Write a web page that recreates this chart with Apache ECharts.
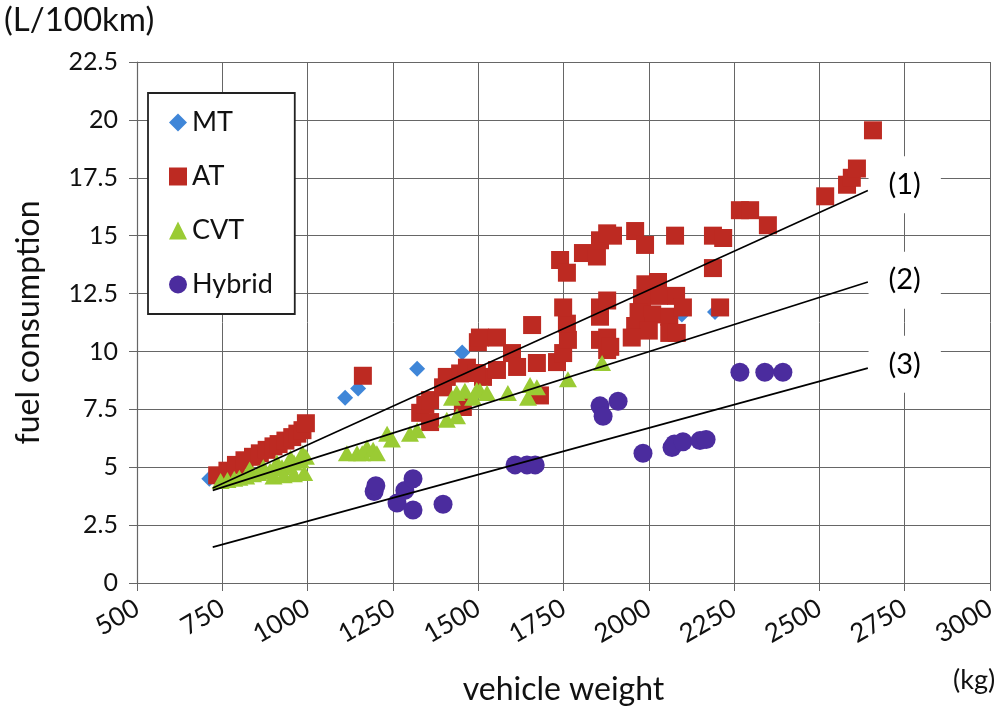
<!DOCTYPE html>
<html>
<head>
<meta charset="utf-8">
<script src="https://cdn.jsdelivr.net/npm/echarts@6/dist/echarts.min.js"></script>
<style>
html,body{margin:0;padding:0;background:#fff;}
#chart{width:1006px;height:713px;}
</style>
</head>
<body>
<div id="chart"></div>
<script>
// ---- data ----
var seriesNames = ['MT', 'AT', 'CVT', 'Hybrid'];
var xTicks = [500, 750, 1000, 1250, 1500, 1750, 2000, 2250, 2500, 2750, 3000];
var yTicks = [0, 2.5, 5, 7.5, 10, 12.5, 15, 17.5, 20, 22.5];

var mtData = [[712,4.5],[1110,8.0],[1148,8.4],[1321,9.25],[1453,9.95],[2097,11.6],[2194,11.7]];

var atData = [
  [735,4.65],[765,4.85],[790,5.1],[815,5.3],[840,5.45],[860,5.6],[880,5.75],[900,5.9],[915,6.0],
  [935,6.15],[955,6.3],[970,6.45],[985,6.6],[995,6.9],
  [1162,8.95],[1330,7.35],[1345,7.7],[1359,6.95],[1359,7.9],[1397,8.45],[1408,8.9],[1455,7.6],
  [1447,9.05],[1467,9.3],[1499,10.4],[1514,8.9],[1505,10.6],[1555,10.6],[1599,9.93],[1658,11.14],
  [1496,9.07],[1555,9.2],[1614,9.33],[1672,9.5],[1731,9.54],[1749,9.93],[1763,10.5],[1760,11.2],
  [1749,11.9],[1681,8.1],[1740,13.95],[1760,13.4],[1807,14.25],[1848,14.1],[1857,14.8],[1878,15.1],
  [1857,11.9],[1857,11.5],[1857,10.5],[1878,10.06],[1878,12.2],[1878,10.6],[1887,10.2],
  [1895,15.0],[1960,15.2],[1989,14.6],[2077,15.0],[2188,15.0],[2218,14.9],[2267,16.1],[2297,16.1],
  [2349,15.45],[2188,13.6],[2209,11.9],
  [1990,12.9],[2027,13.0],[1980,12.3],[2030,12.4],[2080,12.4],[1970,11.7],[2010,11.6],[2060,11.5],
  [2100,11.9],[1960,11.1],[2000,10.9],[2060,10.8],[1950,10.6],[2082,10.8],
  [2517,16.7],[2581,17.2],[2595,17.5],[2610,17.9],[2657,19.55]
];

var cvtData = [
  [745,4.4],[765,4.45],[785,4.5],[800,4.55],[820,4.6],[840,4.7],[855,4.75],[870,4.8],[890,4.85],
  [905,4.95],[925,5.0],[945,5.1],[960,5.2],[980,5.3],[995,5.45],[830,4.9],[870,5.0],[910,5.2],
  [950,5.4],[985,5.6],[900,4.6],[930,4.65],[960,4.7],[990,4.75],
  [1115,5.6],[1145,5.6],[1160,5.6],[1174,5.85],[1192,5.75],[1203,5.6],[1233,6.45],[1247,6.2],
  [1300,6.45],[1321,6.6],[1408,7.05],[1423,8.0],[1438,7.2],[1461,8.3],[1485,8.0],[1505,8.3],
  [1437,8.2],[1496,8.33],[1526,8.2],[1587,8.2],[1652,8.55],[1672,8.45],[1646,8.0],[1763,8.8],[1863,9.5]
];

var hybridData = [
  [1195,3.95],[1200,4.2],[1262,3.45],[1285,4.0],[1309,4.5],[1309,3.15],[1397,3.4],
  [1608,5.1],[1643,5.1],[1667,5.1],[1857,7.65],[1910,7.85],[1866,7.2],
  [1983,5.6],[2068,5.85],[2075,6.0],[2100,6.1],[2150,6.15],[2168,6.2],
  [2267,9.1],[2340,9.1],[2393,9.1]
];

var line1 = [[722,4.1],[2642,16.95]];
var line2 = [[722,4.0],[2642,13.0]];
var line3 = [[722,1.55],[2642,9.28]];
var lineLabels = ['(1)', '(2)', '(3)'];
var lineLabelPos = [[2750,17.2],[2750,13.08],[2750,9.45]];

// ---- chart ----
var FONT = 'Lato';
var gridColor = '#666';
var chart = echarts.init(document.getElementById('chart'));

var labelData = lineLabels.map(function (t, i) {
  return { name: t, value: lineLabelPos[i] };
});

var option = {
  backgroundColor: '#fff',
  animation: false,
  textStyle: { fontFamily: FONT },
  grid: { left: 137, right: 16, top: 62, bottom: 130, containLabel: false },
  xAxis: {
    type: 'value', min: xTicks[0], max: xTicks[xTicks.length - 1], interval: 250,
    name: 'vehicle weight', nameLocation: 'middle', nameGap: 91,
    nameTextStyle: { fontSize: 32, color: '#111', fontFamily: FONT },
    axisLine: { show: true, lineStyle: { color: gridColor, width: 1.2 } },
    axisTick: { show: true, length: 8, lineStyle: { color: gridColor } },
    axisLabel: { rotate: 30, fontSize: 26, color: '#111', margin: 23, fontFamily: FONT,
      formatter: function (v) { return String(v); } },
    splitLine: { show: true, lineStyle: { color: gridColor, width: 1 } }
  },
  yAxis: {
    type: 'value', min: yTicks[0], max: yTicks[yTicks.length - 1], interval: 2.5,
    name: 'fuel consumption', nameLocation: 'middle', nameGap: 92, nameRotate: 90,
    nameTextStyle: { fontSize: 32, color: '#111', fontFamily: FONT },
    axisLine: { show: true, lineStyle: { color: gridColor, width: 1.2 } },
    axisTick: { show: true, length: 8, lineStyle: { color: gridColor } },
    axisLabel: { fontSize: 25, color: '#111', margin: 19, fontFamily: FONT,
      formatter: function (v) { return String(v); } },
    splitLine: { show: true, lineStyle: { color: gridColor, width: 1 } }
  },
  legend: {
    orient: 'vertical', left: 148, top: 93,
    padding: [16, 22, 16, 21], itemGap: 27, itemWidth: 18, itemHeight: 18,
    backgroundColor: '#fff', borderColor: '#222', borderWidth: 1.8,
    textStyle: { fontSize: 27, color: '#111', fontFamily: FONT },
    data: [
      { name: seriesNames[0], icon: 'diamond' },
      { name: seriesNames[1], icon: 'rect' },
      { name: seriesNames[2], icon: 'triangle' },
      { name: seriesNames[3], icon: 'circle' }
    ]
  },
  graphic: [
    { type: 'text', left: 4, top: 4, style: { text: '(L/100km)', fontSize: 33, fill: '#111', fontFamily: FONT } },
    { type: 'text', left: 953, top: 667, style: { text: '(kg)', fontSize: 27, fill: '#111', fontFamily: FONT } }
  ],
  series: [
    { name: seriesNames[0], type: 'scatter', symbol: 'diamond', symbolSize: [16, 16], data: mtData,
      itemStyle: { color: '#3f86d8', opacity: 1 }, z: 2 },
    { name: seriesNames[1], type: 'scatter', symbol: 'rect', symbolSize: 18, data: atData,
      itemStyle: { color: '#bd2a22', opacity: 1 }, z: 3 },
    { name: seriesNames[2], type: 'scatter', symbol: 'triangle', symbolSize: [18, 16], data: cvtData,
      itemStyle: { color: '#9acb34', opacity: 1 }, z: 4 },
    { name: seriesNames[3], type: 'scatter', symbol: 'circle', symbolSize: 19, data: hybridData,
      itemStyle: { color: '#4b2c9e', opacity: 1 }, z: 5 },
    { name: 'line1', type: 'line', data: line1, symbol: 'none', lineStyle: { color: '#000', width: 1.6 }, z: 6, silent: true },
    { name: 'line2', type: 'line', data: line2, symbol: 'none', lineStyle: { color: '#000', width: 1.6 }, z: 6, silent: true },
    { name: 'line3', type: 'line', data: line3, symbol: 'none', lineStyle: { color: '#000', width: 1.6 }, z: 6, silent: true },
    { name: 'labels', type: 'scatter', data: labelData, symbolSize: 1,
      itemStyle: { color: 'rgba(0,0,0,0)' }, z: 7, silent: true,
      label: { show: true, position: 'inside', formatter: '{b}', fontSize: 29, color: '#000',
        opacity: 1, fontFamily: FONT, backgroundColor: '#fff', padding: [18, 20, 10, 20] } }
  ]
};
chart.setOption(option);
</script>
</body>
</html>
